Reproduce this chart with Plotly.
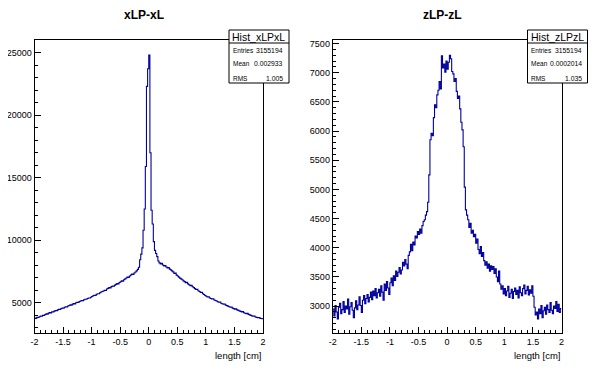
import numpy as np
import plotly.graph_objects as go

# ---------------- data ----------------
x_min, x_max = -2.0, 2.0

# xLP-xL : 200 bins of 0.02 from -2 to 2
xl_counts = [
    3800, 3770, 3850, 3840, 3900, 3960, 3940, 4020, 4010, 4080,
    4130, 4110, 4190, 4230, 4210, 4300, 4280, 4350, 4400, 4380,
    4450, 4500, 4480, 4560, 4600, 4580, 4660, 4700, 4680, 4760,
    4800, 4850, 4830, 4910, 4950, 4930, 5010, 5060, 5040, 5120,
    5160, 5200, 5180, 5260, 5300, 5290, 5360, 5400, 5390, 5460,
    5510, 5570, 5620, 5600, 5700, 5740, 5730, 5820, 5870, 5910,
    5960, 6020, 6000, 6110, 6160, 6220, 6200, 6300, 6350, 6330,
    6420, 6480, 6540, 6520, 6630, 6690, 6760, 6740, 6850, 6920,
    6990, 7060, 7040, 7150, 7230, 7300, 7280, 7390, 7470, 7560,
    7680, 7850, 8450, 8900, 9400, 10800, 12500, 15900, 22300, 23700,
    24800, 17000, 12400, 11300, 9900, 9200, 8950, 8700, 8350, 8200,
    8120, 8170, 8030, 7960, 7990, 7870, 7800, 7830, 7700, 7640,
    7560, 7480, 7350, 7380, 7220, 7150, 7060, 6980, 6920, 6850,
    6760, 6700, 6620, 6640, 6520, 6450, 6380, 6400, 6290, 6220,
    6140, 6080, 6100, 5980, 5910, 5840, 5860, 5740, 5670, 5600,
    5540, 5480, 5500, 5400, 5360, 5310, 5330, 5240, 5190, 5150,
    5100, 5050, 5070, 4980, 4940, 4900, 4920, 4830, 4790, 4750,
    4700, 4660, 4680, 4590, 4550, 4510, 4530, 4450, 4410, 4370,
    4330, 4290, 4310, 4220, 4180, 4150, 4170, 4090, 4050, 4010,
    3970, 3940, 3960, 3880, 3850, 3830, 3840, 3790, 3760, 3740,
]

# zLP-zL : 200 bins of 0.02 from -2 to 2
zl_counts = [
    2950, 2830, 3010, 2900, 2780, 2980, 3050, 2870, 2940, 3080,
    2890, 3000, 2950, 3120, 2860, 2990, 3060, 2930, 2800, 2970,
    3090, 2940, 3020, 3160, 3010, 2890, 3100, 3180, 3040, 3130,
    3200, 3070, 3150, 3240, 3110, 3260, 3180, 3300, 3140, 3230,
    3290, 3170, 3350, 3240, 3100, 3380, 3270, 3420, 3310, 3200,
    3400, 3480, 3350, 3520, 3440, 3600, 3510, 3580, 3660, 3550,
    3620, 3750, 3690, 3800, 3720, 3640, 3870, 3930, 4060, 3950,
    4100, 4050, 4200, 4170, 4280, 4230, 4320, 4250, 4380, 4450,
    4480, 4560, 4620, 4780, 5250, 5850, 5960, 5920, 6230, 6450,
    6400, 6620, 6700, 6850, 6720, 7290, 7080, 7150, 7010, 7200,
    7060, 7180, 7300, 7240, 7020, 6980, 6850, 6900, 6680, 6560,
    6600, 6380, 6150, 6020, 5730, 5040, 4650, 4560, 4480, 4350,
    4420, 4250, 4300, 4190, 4230, 4080, 4150, 3970, 3900, 4020,
    3850, 3920, 3780, 3700, 3760, 3650, 3720, 3600, 3690, 3630,
    3680, 3560, 3640, 3500, 3420, 3600, 3380, 3290, 3350, 3210,
    3300, 3180, 3260, 3340, 3150, 3220, 3290, 3130, 3250, 3310,
    3200, 3270, 3140, 3330, 3230, 3180, 3300, 3360, 3210, 3270,
    3340, 3190, 3280, 3220, 3350, 3170, 2980, 2850, 2900, 2780,
    2950, 2870, 3010, 2800, 2920, 2980, 2860, 3020, 2940, 2890,
    3060, 2930, 2870, 3000, 2960, 3080, 2910, 3030, 2890, 2960,
]

titles = ["xLP-xL", "zLP-zL"]
stat_names = ["Hist_xLPxL", "Hist_zLPzL"]
entries = ["3155194", "3155194"]
means = ["0.002933", "0.0002014"]
rmss = ["1.005", "1.035"]
x_title = "length [cm]"
x_tick_vals = [-2, -1.5, -1, -0.5, 0, 0.5, 1, 1.5, 2]
x_tick_text = ["-2", "-1.5", "-1", "-0.5", "0", "0.5", "1", "1.5", "2"]

# ---------------- figure ----------------
# the page body has an 8px margin, so the figure is drawn 8px in from the
# window corner; all window pixel positions below are converted accordingly
OFF = 8
W, H = 596 - OFF, 374 - OFF
FONT = "Liberation Sans, Arial, Helvetica, sans-serif"
LINE = "#00009c"


def px(x):
    return (x - OFF) / W


def py(y):
    return 1 - (y - OFF) / H


def step_xy(counts):
    n = len(counts)
    edges = np.linspace(x_min, x_max, n + 1)
    ys = list(counts) + [counts[-1]]
    return edges, ys


fig = go.Figure()

panels = [
    dict(dom=(34.5, 263), yr=(2600, 26000), dt=5000, mdt=1000, counts=xl_counts),
    dict(dom=(332.7, 561.5), yr=(2540, 7560), dt=500, mdt=100, counts=zl_counts),
]

y_dom = [py(333), py(40)]

for i, p in enumerate(panels):
    xa = "x" if i == 0 else "x2"
    ya = "y" if i == 0 else "y2"
    ex, ey = step_xy(p["counts"])
    fig.add_trace(go.Scatter(
        x=ex, y=ey, mode="lines", line=dict(color=LINE, width=1.1, shape="hv"),
        xaxis=xa, yaxis=ya, showlegend=False, hoverinfo="skip",
    ))
    axis_common = dict(
        showgrid=False, zeroline=False, showline=True, linecolor="black",
        linewidth=1, mirror=True, ticks="inside", tickcolor="black",
        tickfont=dict(family=FONT, size=9, color="black"), automargin=False,
    )
    xkey = "xaxis" if i == 0 else "xaxis2"
    ykey = "yaxis" if i == 0 else "yaxis2"
    fig.update_layout(**{
        xkey: dict(
            domain=[px(p["dom"][0]), px(p["dom"][1])], range=[x_min, x_max],
            anchor=ya, tickmode="array", tickvals=x_tick_vals, ticktext=x_tick_text,
            ticklen=6, minor=dict(ticks="inside", dtick=0.1, tick0=-2, ticklen=3, tickcolor="black"),
            **axis_common,
        ),
        ykey: dict(
            domain=y_dom, range=list(p["yr"]), anchor=xa,
            dtick=p["dt"], tick0=0, ticklen=6, tickformat="d",
            minor=dict(ticks="inside", dtick=p["mdt"], ticklen=3, tickcolor="black"),
            **axis_common,
        ),
    })

    off = 0 if i == 0 else 298
    # title
    fig.add_annotation(x=px(144 + off), y=py(15), xref="paper", yref="paper",
                       text="<b>%s</b>" % titles[i], showarrow=False,
                       font=dict(family=FONT, size=12, color="black"),
                       xanchor="center", yanchor="middle")
    # x axis title
    fig.add_annotation(x=px(p["dom"][1]), y=py(355), xref="paper", yref="paper",
                       text=x_title, showarrow=False,
                       font=dict(family=FONT, size=9.5, color="black"),
                       xanchor="right", yanchor="middle")
    # stats box
    bx0, bx1 = p["dom"][1] - 34, p["dom"][1] + 26
    by0, by1 = 30, 83
    fig.add_shape(type="rect", xref="paper", yref="paper",
                  x0=px(bx0), x1=px(bx1), y0=py(by1), y1=py(by0),
                  line=dict(color="black", width=1), fillcolor="white", layer="above")
    fig.add_shape(type="line", xref="paper", yref="paper",
                  x0=px(bx0), x1=px(bx1), y0=py(43), y1=py(43),
                  line=dict(color="black", width=1), layer="above")
    fig.add_annotation(x=px((bx0 + bx1) / 2), y=py(36.5), xref="paper", yref="paper",
                       text=stat_names[i], showarrow=False,
                       font=dict(family=FONT, size=10.5, color="black"),
                       xanchor="center", yanchor="middle")
    rows = [("Entries", entries[i], 50), ("Mean", means[i], 64), ("RMS", rmss[i], 78)]
    for lab, val, yy in rows:
        fig.add_annotation(x=px(bx0 + 1.5), y=py(yy), xref="paper", yref="paper",
                           text=lab, showarrow=False,
                           font=dict(family=FONT, size=6.5, color="black"),
                           xanchor="left", yanchor="middle")
        fig.add_annotation(x=px(bx1 - 4), y=py(yy), xref="paper", yref="paper",
                           text=val, showarrow=False,
                           font=dict(family=FONT, size=6.8, color="black"),
                           xanchor="right", yanchor="middle")

fig.update_layout(
    width=W, height=H, autosize=False,
    margin=dict(l=0, r=0, t=0, b=0),
    paper_bgcolor="white", plot_bgcolor="white",
)

fig.write_html("out.html")
